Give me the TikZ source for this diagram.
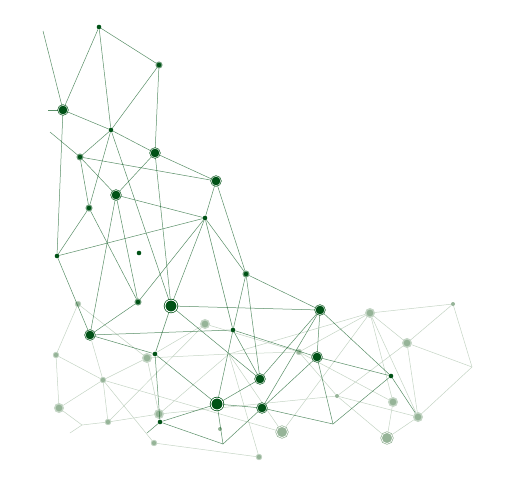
\documentclass[tikz,border=0pt]{standalone}
\definecolor{dkg}{RGB}{0,82,22}
\definecolor{lgn}{RGB}{150,180,152}
\definecolor{lge}{RGB}{196,212,196}
\tikzset{
  edge/.style={draw=dkg, line width=0.5pt, draw opacity=0.65},
  ledge/.style={draw=lge, line width=0.5pt},
  dsmall/.style={circle, fill=dkg, inner sep=0pt, minimum size=4.6pt},
  dmed/.style={circle, fill=dkg, draw=dkg!55, line width=1pt, inner sep=0pt, minimum size=6pt},
  dlarge/.style={circle, fill=dkg, draw=dkg, double=white, double distance=0.45pt, line width=0.6pt, inner sep=0pt, minimum size=9.5pt},
  ddouble/.style={circle, fill=dkg, draw=dkg, double=white, double distance=0.9pt, line width=0.7pt, inner sep=0pt, minimum size=12pt},
  lsmall/.style={circle, fill=lgn, inner sep=0pt, minimum size=4pt},
  lmed/.style={circle, fill=lgn, draw=lgn!60, line width=0.8pt, inner sep=0pt, minimum size=5.5pt},
  llarge/.style={circle, fill=lgn, draw=lgn!55, line width=1.4pt, inner sep=0pt, minimum size=8.5pt},
  ldouble/.style={circle, fill=lgn, draw=lgn, double=white, double distance=0.7pt, line width=0.7pt, inner sep=0pt, minimum size=11pt}
}
\begin{document}
\begin{tikzpicture}[x=1pt,y=-1pt]
\useasboundingbox (0,0) rectangle (514,485);
% light nodes
\node[lmed] (La) at (78,304) {};
\node[llarge] (Lb) at (205,324) {};
\node[lmed] (Lc) at (56,355) {};
\node[llarge] (Ld) at (147,358) {};
\node[lmed] (Le) at (103,380) {};
\node[llarge] (Lf) at (59,408) {};
\node[lmed] (Lg) at (108,422) {};
\node[llarge] (Lh) at (159,414) {};
\node[lmed] (Li) at (154,443) {};
\node[lsmall] (Lj) at (220,429) {};
\node[lmed] (Lk) at (259,457) {};
\node[lmed] (Ll) at (299,352) {};
\node[llarge] (Lm) at (370,313) {};
\node[lsmall] (Ln) at (453,304) {};
\node[llarge] (Lo) at (407,343) {};
\node[llarge] (Lq) at (418,417) {};
\node[llarge] (Lr) at (393,402) {};
\node[ldouble] (Ls) at (387,438) {};
\node[lsmall] (Lt) at (337,396) {};
\node[ldouble] (Lu) at (282,432) {};
\coordinate (Lp) at (472,367);
\coordinate (J2) at (82,425);
\coordinate (J3) at (229,354);
\coordinate (F4) at (70,433);
% light edges
\foreach \a/\b in {La/Lc,La/Ld,Lc/Le,Lc/Lf,Le/Ld,Le/Lf,Le/Lg,Le/Lu,Le/Li,
  Lf/J2,J2/F4,J2/Lg,Lg/Lh,Lg/Lb,Ld/Lb,Ld/Lh,Ld/J3,J3/Ll,J3/Lk,J3/Lh,J3/Lu,J3/Lm,
  Lb/Ll,Ll/Lm,Ll/Lr,Ll/Lt,Li/Lk,Lh/Lt,Lm/Ln,Lm/Lo,Lm/Lr,Lm/Lq,Lm/Lu,Ln/Lo,Ln/Lp,
  Lo/Lp,Lo/Lq,Lo/Lt,Lp/Lq,Lt/Ls,Lt/Lq,Lr/Ls,Ls/Lq}
  \draw[ledge] (\a) -- (\b);
% dark nodes
\node[dsmall] (D1) at (99,27) {};
\node[dmed] (D2) at (159,65) {};
\node[dlarge] (D3) at (63,110) {};
\node[dsmall] (D4) at (111,130) {};
\node[dmed] (D5) at (80,157) {};
\node[dlarge] (D6) at (155,153) {};
\node[dlarge] (D7) at (216,181) {};
\node[dlarge] (D8) at (116,195) {};
\node[dmed] (D9) at (89,208) {};
\node[dsmall] (D10) at (205,218) {};
\node[dsmall] (D11) at (57,256) {};
\node[dsmall] (D12) at (139,253) {};
\node[dmed] (D13) at (246,274) {};
\node[dmed] (D14) at (138,302) {};
\node[ddouble] (D15) at (171,306) {};
\node[dlarge] (D16) at (320,310) {};
\node[dlarge] (D17) at (90,335) {};
\node[dsmall] (D18) at (233,330) {};
\node[dsmall] (D19) at (155,354) {};
\node[dlarge] (D20) at (317,357) {};
\node[dlarge] (D21) at (260,379) {};
\node[dsmall] (D22) at (391,376) {};
\node[ddouble] (D23) at (217,404) {};
\node[dlarge] (D24) at (262,408) {};
\node[dsmall] (D25) at (160,422) {};
\coordinate (J1) at (223,444);
\coordinate (J4) at (333,424);
\coordinate (F1) at (43,31);
\coordinate (F2) at (48,110);
\coordinate (F3) at (50,132);
\coordinate (F5) at (147,433);
\draw[ledge] (Le) -- (D17);
% dark edges
\foreach \a/\b in {F1/D3,F2/D3,F3/D5,D1/D3,D1/D2,D1/D4,D2/D4,D2/D6,D3/D4,D3/D11,
  D4/D5,D4/D6,D4/D9,D4/D15,D5/D7,D5/D8,D5/D9,D6/D7,D6/D8,D6/D15,D7/D10,D7/D13,
  D8/D10,D8/D14,D8/D17,D9/D11,D9/D14,D10/D11,D10/D14,D10/D15,D10/D18,D10/D13,
  D11/D17,D14/D17,D15/D16,D15/D19,D15/D21,D13/D16,D13/D18,D13/D21,D16/D20,D16/D21,
  D16/D22,D16/D24,D17/D18,D17/D19,D18/D20,D18/D23,D18/D21,D19/D23,D19/D25,D20/D22,
  D20/D24,D20/J4,D22/J4,D21/D23,D23/D24,D23/J1,D24/J1,D24/J4,D25/D23,D25/J1,D25/F5}
  \draw[edge] (\a) -- (\b);
\draw[edge] (D22) -- (Lq);
\end{tikzpicture}
\end{document}
